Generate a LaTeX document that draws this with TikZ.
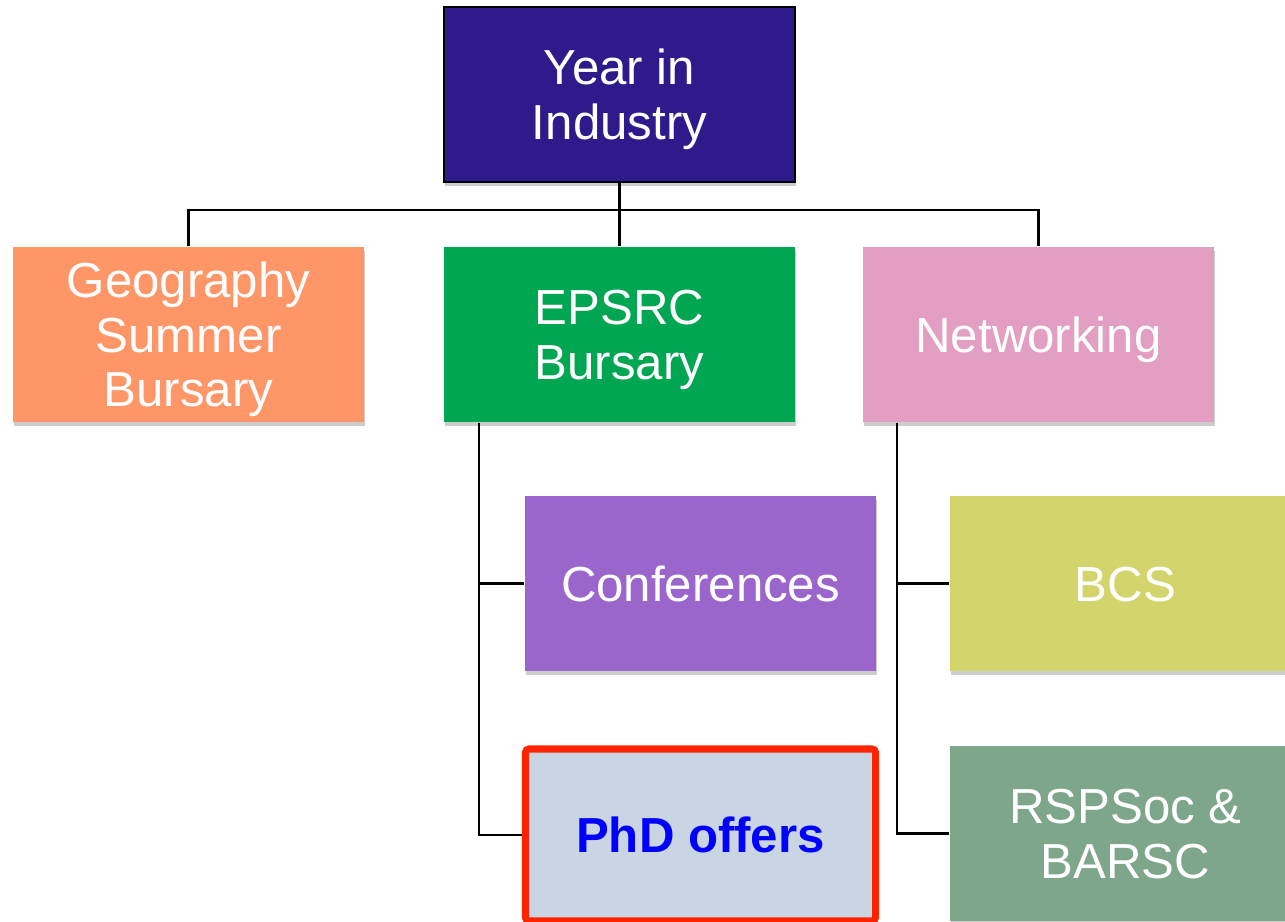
\documentclass[tikz,border=0pt]{standalone}
\usepackage{fontspec}
\setmainfont{Liberation Sans}
\usepackage{tikz}
\usetikzlibrary{shadows}

\definecolor{yearblue}{RGB}{46,26,138}
\definecolor{geoorange}{RGB}{255,150,104}
\definecolor{epsrcgreen}{RGB}{0,166,81}
\definecolor{netpink}{RGB}{227,159,193}
\definecolor{confpurple}{RGB}{155,102,204}
\definecolor{bcsyellow}{RGB}{211,213,108}
\definecolor{phdgrey}{RGB}{201,213,227}
\definecolor{phdred}{RGB}{255,36,0}
\definecolor{rspgreen}{RGB}{126,166,138}

\begin{document}
\begin{tikzpicture}[
  mybox/.style={
    rectangle,
    fill=#1,
    text=white,
    minimum width=3.51cm,
    minimum height=1.75cm,
    inner sep=0pt,
    align=center,
    font=\fontsize{14}{15.5}\selectfont,
    execute at begin node={\rule{0pt}{14pt}},
    execute at end node={\rule[-4pt]{0pt}{0pt}},
    drop shadow={shadow xshift=0.3pt, shadow yshift=-1.2pt, fill=black, opacity=0.2}
  },
  textrise/.style={
    execute at begin node={\rule{0pt}{#1}}
  },
  mylink/.style={
    draw=black,
    line width=0.6pt
  }
]
\useasboundingbox (0,0) rectangle (12.85,9.21);
\clip (0,0) rectangle (12.85,9.21);
\coordinate (bar) at (6.195,7.11);
\node[mybox=yearblue, textrise=29.5pt, draw=black, line width=0.6pt] (year) at (6.195,8.265) {Year in\\Industry};
\node[mybox=geoorange, textrise=45pt] (geo) at (1.885,5.865) {Geography\\Summer\\Bursary};
\node[mybox=epsrcgreen, textrise=29.5pt] (epsrc) at (6.195,5.865) {EPSRC\\Bursary};
\node[mybox=netpink] (netw) at (10.385,5.865) {Networking};
\node[mybox=confpurple] (conf) at (7.005,3.375) {Conferences};
\node[mybox=bcsyellow] (bcs) at (11.255,3.375) {BCS};
\node[mybox=phdgrey, draw=phdred, line width=2pt, rounded corners=1pt,
  minimum width=3.5cm, minimum height=1.72cm, text=blue,
  font=\fontsize{14}{15.5}\selectfont\bfseries] (phd) at (7.005,0.86) {PhD offers};
\node[mybox=rspgreen, textrise=29.5pt] (rsp) at (11.255,0.875) {RSPSoc \&\\BARSC};

% tree lines
\draw[mylink] (year.south) -- (bar);
\draw[mylink] (geo.north) |- (bar) -| (netw.north);
\draw[mylink] (bar) -- (epsrc.north);
\draw[mylink] ([xshift=0.36cm]epsrc.south west) |- (conf.west);
\draw[mylink] ([xshift=0.36cm]epsrc.south west) |- (phd.west);
\draw[mylink] ([xshift=0.35cm]netw.south west) |- (bcs.west);
\draw[mylink] ([xshift=0.35cm]netw.south west) |- (rsp.west);
\end{tikzpicture}
\end{document}
